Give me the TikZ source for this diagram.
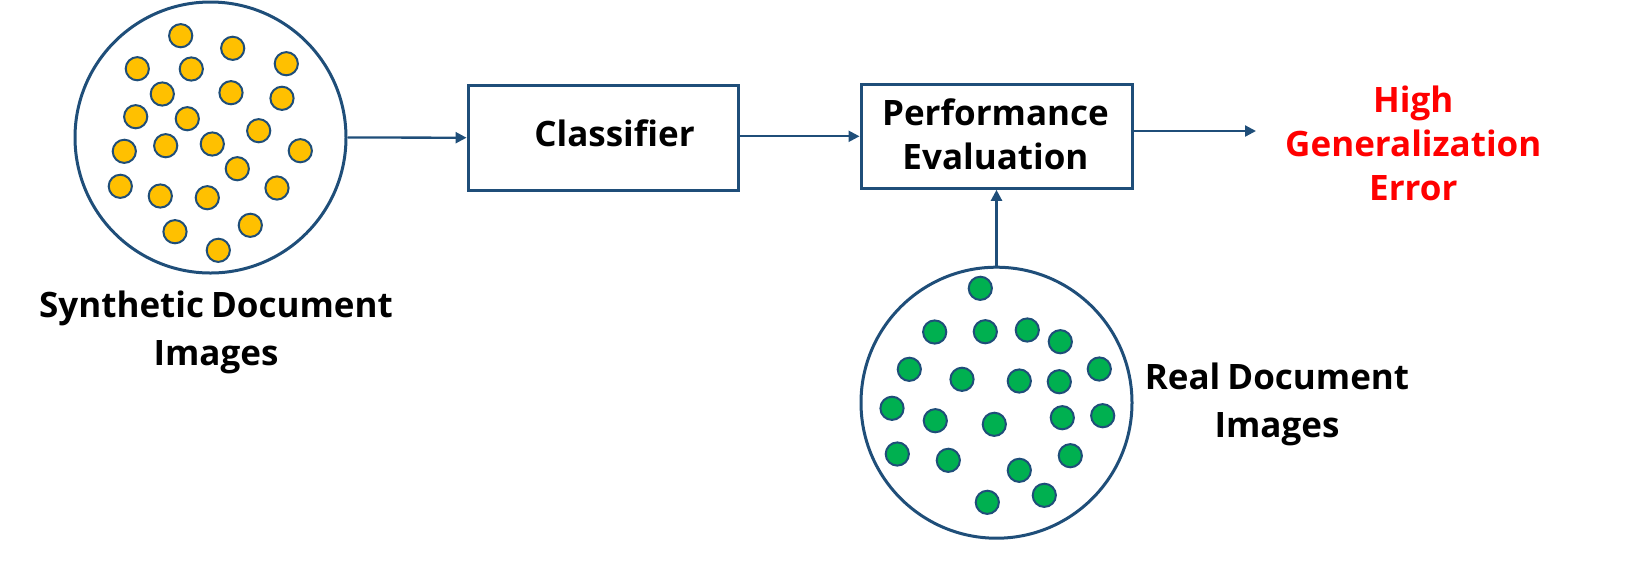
\documentclass[tikz,border=0pt]{standalone}
\usepackage{fontspec}
\setmainfont{Open Sans}
\usetikzlibrary{arrows.meta}
\definecolor{dblue}{HTML}{1F4E79}
\definecolor{dyellow}{HTML}{FFC000}
\definecolor{dgreen}{HTML}{00B050}
\definecolor{dred}{HTML}{FF0000}
\newcommand{\tightspace}{\spaceskip=0.2em plus 0.05em\relax}
\tikzset{
  bigcircle/.style={circle, draw=dblue, line width=1.5pt, minimum size=135.5pt, inner sep=0pt},
  stepbox/.style={rectangle, draw=dblue, line width=1.5pt, inner sep=0pt},
  ydot/.style={circle, draw=dblue, fill=dyellow, line width=1pt, minimum size=11.6pt, inner sep=0pt},
  gdot/.style={circle, draw=dblue, fill=dgreen, line width=1pt, minimum size=11.6pt, inner sep=0pt},
  lbl/.style={font=\bfseries\fontsize{17.5pt}{22pt}\selectfont, align=center, inner sep=0pt, anchor=base},
  lbltwo/.style={font=\bfseries\fontsize{17.5pt}{24pt}\selectfont\tightspace, align=center, inner sep=0pt, anchor=base},
  conn/.style={draw=dblue, line width=1.15pt, -{Triangle[length=5.5pt,width=5.5pt]}},
}
\begin{document}
\begin{tikzpicture}[x=0.5pt,y=-0.5pt]
\useasboundingbox (0,0) rectangle (1644,564);
% big circles
\node[bigcircle] (syn) at (210.5,137.5) {};
\node[bigcircle] (real) at (996.5,402.7) {};
% dots
\foreach \px/\py [count=\i] in {180.7/35.7, 232.7/48.3, 137.3/68.7, 191.3/69, 286.3/63.7, 162.3/94, 231/92.7, 282/98.3, 135.7/116.7, 187.3/118.7, 258.7/130.7, 124.3/151.3, 165.7/145.7, 212.3/144, 300.3/150.7, 237.3/168.7, 120.3/186.3, 160.3/196, 207.3/197.7, 277/188, 175/231.7, 250.3/225.3, 218.3/250.3}
  \node[ydot] (y\i) at (\px,\py) {};
\foreach \px/\py [count=\i] in {980.3/288.3, 934.7/332, 985.3/331.7, 1027.3/330, 1060.3/341.7, 909.3/369.3, 962/379.3, 1019.3/381, 1059.3/381.7, 1099.3/369, 892/408.3, 935.3/420.7, 994.3/424.3, 1062.3/417.7, 1102.7/415.7, 897.3/454, 948.3/460.3, 1019.3/470.3, 1070.3/455.7, 987.3/502.3, 1044.3/495.3}
  \node[gdot] (g\i) at (\px,\py) {};
% boxes
\node[stepbox, minimum width=135.15pt, minimum height=52.35pt] (cls) at (603.2,137.7) {};
\node[stepbox, minimum width=135.5pt, minimum height=52pt] (perf) at (996.5,136.3) {};
% texts (anchor base = baseline of last line)
\node[lbl] (clstext) at (614.5,146) {Classifier};
\node[lbl] (perftext) at (995.5,169.3) {Performance\\Evaluation};
\node[lbl, text=dred] (err) at (1413.3,200) {High\\Generalization\\Error};
\node[lbltwo] (synlbl) at (216,365) {Synthetic Document\\Images};
\node[lbltwo] (reallbl) at (1277,437.7) {Real Document\\Images};
% connectors
\coordinate (tip) at (1256,131);
\draw[conn] (syn.east) -- (cls.west);
\draw[conn] (cls.east |- perf.west) -- (perf.west);
\draw[conn] (perf.east |- tip) -- (tip);
\draw[conn] (real.north) -- (perf.south);
\end{tikzpicture}
\end{document}
